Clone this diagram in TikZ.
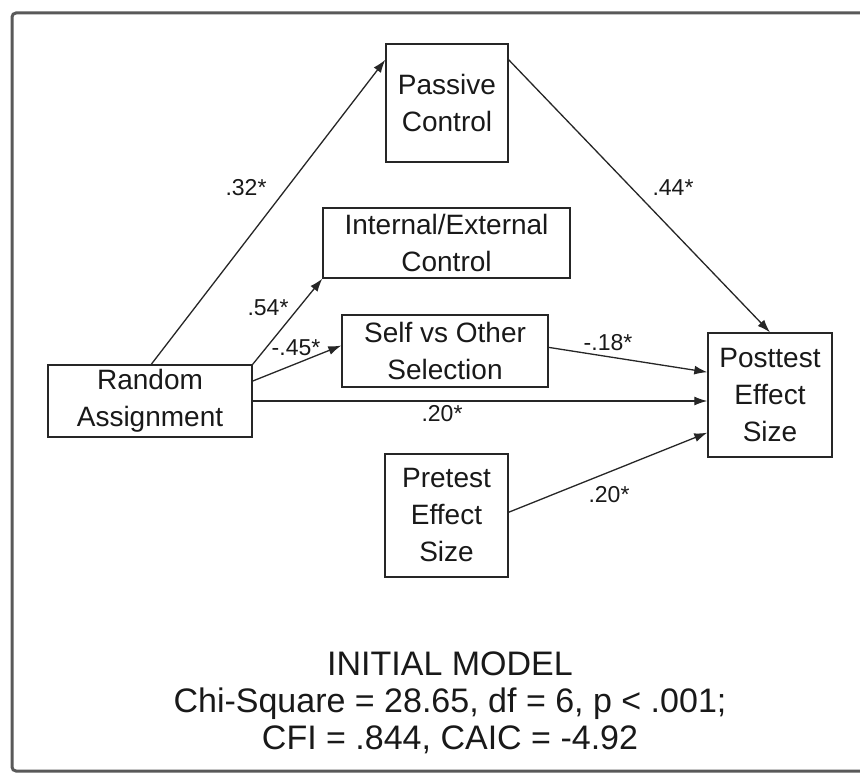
\documentclass[tikz,border=0pt]{standalone}
\usepackage{fontspec}
\setmainfont{Liberation Sans}
\usetikzlibrary{arrows.meta}
\begin{document}
\begin{tikzpicture}[x=1pt,y=-1pt,
  box/.style={draw=black!85, line width=1.4pt, align=center, inner sep=0pt,
    font=\fontsize{28}{37}\selectfont, text=black!90},
  arr/.style={draw=black!85, line width=1.3pt, -{Latex[length=13pt,width=9pt]}},
  lbl/.style={font=\fontsize{23}{28}\selectfont, text=black!90, inner sep=0pt},
  ttl/.style={font=\fontsize{34}{37}\selectfont, align=center, text=black!90, inner sep=0pt}]
\useasboundingbox (0,0) rectangle (860,773);
\fill[white] (0,0) rectangle (860,773);
\draw[black!65, line width=3pt, rounded corners=4pt] (875,13) -- (12,13) -- (12,771) -- (875,771);

% nodes
\node[box, minimum width=122pt, minimum height=118pt] (passive) at (447,103) {Passive\\Control};
\node[box, minimum width=247pt, minimum height=70pt] (internal) at (446.5,243) {Internal/External\\Control};
\node[box, minimum width=206pt, minimum height=72pt] (self) at (445,351) {Self vs Other\\Selection};
\node[box, minimum width=204pt, minimum height=72pt] (random) at (150,401) {Random\\Assignment};
\node[box, minimum width=124pt, minimum height=124pt] (post) at (770,395) {Posttest\\Effect\\Size};
\node[box, minimum width=123pt, minimum height=123pt] (pre) at (446.5,515.5) {Pretest\\Effect\\Size};

% connectors
\draw[arr] (random.88) -- (passive.145);
\draw[arr] (passive.35) -- (post.north);
\draw[arr] (random.north east) -- (internal.south west);
\draw[arr] (random.11) -- (self.177);
\draw[arr] (self.2) -- (post.160);
\draw[arr] (random.east) -- (random.east -| post.west);
\draw[arr] (pre.3) -- (post.211);

% labels
\node[lbl] (l1) at (246,188) {.32*};
\node[lbl] (l2) at (673,188) {.44*};
\node[lbl] (l3) at (268,308) {.54*};
\node[lbl] (l4) at (296,348) {-.45*};
\node[lbl] (l5) at (608,343) {-.18*};
\node[lbl] (l6) at (442,414) {.20*};
\node[lbl] (l7) at (609,495) {.20*};

% title
\node[ttl] (title) at (450,703) {INITIAL MODEL\\Chi-Square = 28.65, df = 6, p < .001;\\CFI = .844, CAIC = -4.92};
\end{tikzpicture}
\end{document}
